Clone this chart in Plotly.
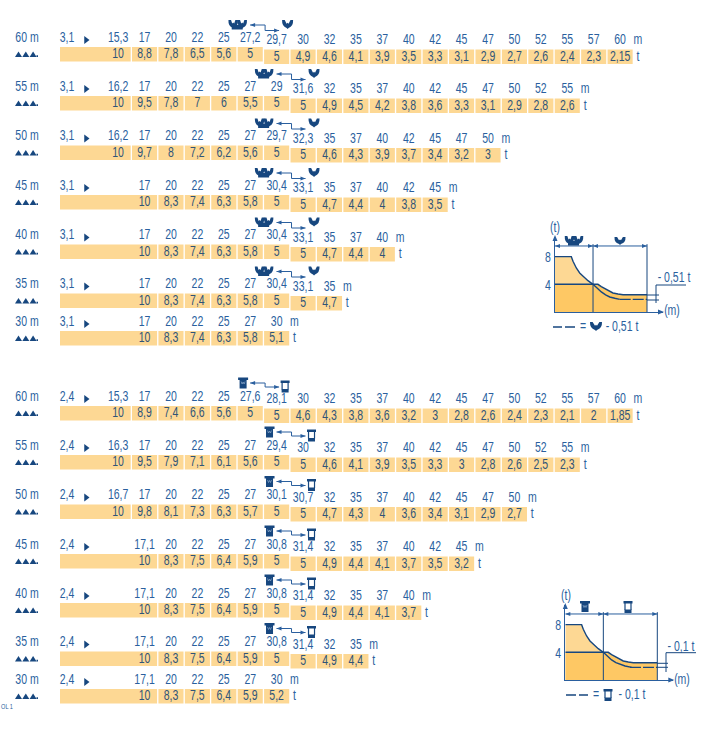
import plotly.graph_objects as go

boom_lengths = [60, 55, 50, 45, 40, 35, 30]

# first table: 3,1 m minimum radius
min_radius_a = "3,1"
radii_a = [
    [15.3, 17, 20, 22, 25, 27.2, 29.7, 30, 32, 35, 37, 40, 42, 45, 47, 50, 52, 55, 57, 60],
    [16.2, 17, 20, 22, 25, 27, 29, 31.6, 32, 35, 37, 40, 42, 45, 47, 50, 52, 55],
    [16.2, 17, 20, 22, 25, 27, 29.7, 32.3, 35, 37, 40, 42, 45, 47, 50],
    [17, 20, 22, 25, 27, 30.4, 33.1, 35, 37, 40, 42, 45],
    [17, 20, 22, 25, 27, 30.4, 33.1, 35, 37, 40],
    [17, 20, 22, 25, 27, 30.4, 33.1, 35],
    [17, 20, 22, 25, 27, 30],
]
loads_a = [
    [10, 8.8, 7.8, 6.5, 5.6, 5, 5, 4.9, 4.6, 4.1, 3.9, 3.5, 3.3, 3.1, 2.9, 2.7, 2.6, 2.4, 2.3, 2.15],
    [10, 9.5, 7.8, 7, 6, 5.5, 5, 5, 4.9, 4.5, 4.2, 3.8, 3.6, 3.3, 3.1, 2.9, 2.8, 2.6],
    [10, 9.7, 8, 7.2, 6.2, 5.6, 5, 5, 4.6, 4.3, 3.9, 3.7, 3.4, 3.2, 3],
    [10, 8.3, 7.4, 6.3, 5.8, 5, 5, 4.7, 4.4, 4, 3.8, 3.5],
    [10, 8.3, 7.4, 6.3, 5.8, 5, 5, 4.7, 4.4, 4],
    [10, 8.3, 7.4, 6.3, 5.8, 5, 5, 4.7],
    [10, 8.3, 7.4, 6.3, 5.8, 5.1],
]
first_col_a = [-1, -1, -1, 0, 0, 0, 0]
break_col_a = [5, 6, 6, 6, 6, 6, None]

# second table: 2,4 m minimum radius
min_radius_b = "2,4"
radii_b = [
    [15.3, 17, 20, 22, 25, 27.6, 28.1, 30, 32, 35, 37, 40, 42, 45, 47, 50, 52, 55, 57, 60],
    [16.3, 17, 20, 22, 25, 27, 29.4, 30, 32, 35, 37, 40, 42, 45, 47, 50, 52, 55],
    [16.7, 17, 20, 22, 25, 27, 30.1, 30.7, 32, 35, 37, 40, 42, 45, 47, 50],
    [17.1, 20, 22, 25, 27, 30.8, 31.4, 32, 35, 37, 40, 42, 45],
    [17.1, 20, 22, 25, 27, 30.8, 31.4, 32, 35, 37, 40],
    [17.1, 20, 22, 25, 27, 30.8, 31.4, 32, 35],
    [17.1, 20, 22, 25, 27, 30],
]
loads_b = [
    [10, 8.9, 7.4, 6.6, 5.6, 5, 5, 4.6, 4.3, 3.8, 3.6, 3.2, 3, 2.8, 2.6, 2.4, 2.3, 2.1, 2, 1.85],
    [10, 9.5, 7.9, 7.1, 6.1, 5.6, 5, 5, 4.6, 4.1, 3.9, 3.5, 3.3, 3, 2.8, 2.6, 2.5, 2.3],
    [10, 9.8, 8.1, 7.3, 6.3, 5.7, 5, 5, 4.7, 4.3, 4, 3.6, 3.4, 3.1, 2.9, 2.7],
    [10, 8.3, 7.5, 6.4, 5.9, 5, 5, 4.9, 4.4, 4.1, 3.7, 3.5, 3.2],
    [10, 8.3, 7.5, 6.4, 5.9, 5, 5, 4.9, 4.4, 4.1, 3.7],
    [10, 8.3, 7.5, 6.4, 5.9, 5, 5, 4.9, 4.4],
    [10, 8.3, 7.5, 6.4, 5.9, 5.2],
]
first_col_b = [-1, -1, -1, 0, 0, 0, 0]
break_col_b = [5, 6, 6, 6, 6, 6, None]

# load curves of the two small diagrams
curve_x = [0, 10.65, 11.74, 13.9, 16.1, 18.3, 21.5, 24.8]
curve_y = [8, 8, 7.33, 6.36, 5.64, 5.16, 4.53, 4]
upper_x = [0, 28, 30.2, 32.4, 35, 37.8, 41.1, 44.4, 60]
upper_y = [4, 4, 3.66, 3.37, 3.04, 2.75, 2.6, 2.5, 2.5]
reduced_a_x = [24.8, 27, 30.2, 33, 35.7, 39, 42.2]
reduced_a_y = [4, 3.5, 2.9, 2.47, 2.17, 1.98, 1.83]
reduced_b_x = [24.8, 27, 30.2, 33, 35.7, 39, 43.3]
reduced_b_y = [4, 3.5, 2.9, 2.5, 2.26, 2.02, 1.83]
tail_x = [42.2, 60]
tail_a_y = [1.83, 1.83]
tail_b_y = [1.83, 1.83]
divider_x = 24.8
end_x = 60

# page layout, in pixels
W, H = 703, 733
COL0, PITCH = 132, 26.42
CELL_W = 0.95
CELL_H = 14.5
SHIFT = 2.5
tops_a = [47, 96, 145.5, 195, 244.5, 293.5, 331]
tops_b = [406, 455, 504.5, 554, 603, 651.5, 689]

FONT = "Liberation Sans"
SIZE = 15
BLUE = "#2a5f9e"
DARK = "#17477f"
CELL_TEXT = "#2f5478"
LIGHT = "#fdd894"
AMBER = "#fec864"

shapes = []


def fmt(v):
    return str(v).replace(".", ",")


def col_left(c):
    return COL0 + PITCH * c


def solid(path, color=DARK):
    shapes.append(dict(type="path", path=path, xref="x2", yref="y", fillcolor=color, line=dict(width=0), layer="above"))


def stroke(path, color=BLUE, width=1, dash="solid"):
    shapes.append(dict(type="path", path=path, xref="x2", yref="y", line=dict(color=color, width=width, dash=dash), layer="above"))


def cup(cx, top, w=11, h=9):
    l, r, m = cx - w / 2, cx + w / 2, top + h
    solid(f"M{l},{top} L{l + 2.6},{top} L{cx - 1},{top + .42 * h} L{cx},{top + .3 * h} L{cx + 1},{top + .42 * h} L{r - 2.6},{top} L{r},{top} "
          f"Q{r + 0.3},{top + .7 * h} {cx + 1},{m - 1} L{cx},{m} L{cx - 1},{m - 1} Q{l - 0.3},{top + .7 * h} {l},{top} Z")


def double_cup(cx, top):
    cup(cx - 4.5, top, 9.5, 8.5)
    cup(cx + 4.5, top, 9.5, 8.5)
    solid(f"M{cx - 6},{top + 5} L{cx + 5},{top + 5} L{cx + 5},{top + 9.5} L{cx - 6},{top + 9.5} Z")


def block_full(cx, top):
    solid(f"M{cx - 5},{top} L{cx + 5},{top} L{cx + 5},{top + 2.5} L{cx + 3.5},{top + 2.5} L{cx + 3.5},{top + 11} "
          f"L{cx - 3.5},{top + 11} L{cx - 3.5},{top + 2.5} L{cx - 5},{top + 2.5} Z")
    stroke(f"M{cx - 2},{top + 4} L{cx - 1},{top + 6.5} L{cx},{top + 4.5} L{cx + 1},{top + 6.5} L{cx + 2},{top + 4}", "#9db8d6", 0.6)


def block_open(cx, top):
    solid(f"M{cx - 4.5},{top} L{cx + 4.5},{top} L{cx + 4.5},{top + 2.5} L{cx - 4.5},{top + 2.5} Z")
    stroke(f"M{cx - 3},{top + 2} L{cx - 3},{top + 9} M{cx + 3},{top + 2} L{cx + 3},{top + 9}", DARK, 1.2)
    solid(f"M{cx - 3.5},{top + 8.5} L{cx + 3.5},{top + 8.5} L{cx + 3.5},{top + 12} L{cx - 3.5},{top + 12} Z")


def head_left(x, y):
    solid(f"M{x},{y} L{x + 5},{y - 2} L{x + 5},{y + 2} Z", BLUE)


def head_right(x, y):
    solid(f"M{x},{y} L{x - 5},{y - 2} L{x - 5},{y + 2} Z", BLUE)


def switch_arrow(left, y_up, y_low):
    stroke(f"M{left - 14},{y_up} L{left + 1},{y_up} L{left + 1},{y_low} L{left + 15},{y_low}")
    head_left(left - 14, y_up)
    head_right(left + 15, y_low)


def truss(y):
    for x in [15, 22.3, 29.6]:
        solid(f"M{x},{y + 2.8} L{x + 3.5},{y - 2.8} L{x + 7},{y + 2.8} Z")
    solid(f"M36.5,{y + 1} L38,{y + 1} L38,{y + 2.8} L36.5,{y + 2.8} Z")


fig = go.Figure()
side_x, side_y, side_t = [], [], []
arrow_x, arrow_y = [], []


def add_table(tops, radii, loads, first_cols, break_cols, min_radius, style):
    cx, cw, ct = [], [], []
    lx, ly, lt = [], [], []
    vx, vy, vt = [], [], []
    ux, uy, ut = [], [], []
    for i, length in enumerate(boom_lengths):
        top = tops[i]
        brk = break_cols[i]
        for j, (r, v) in enumerate(zip(radii[i], loads[i])):
            c = first_cols[i] + j
            drop = SHIFT if brk is not None and c >= brk else 0
            left = c
            if j == 0:
                left = (60 - COL0) / PITCH
            right = c + CELL_W
            cx.append((left + right) / 2)
            cw.append(right - left)
            ct.append(top + drop)
            lx.append(c + CELL_W / 2)
            ly.append(top + drop - 9)
            lt.append(fmt(r))
            vx.append(c + CELL_W / 2)
            vy.append(top + drop + CELL_H / 2)
            vt.append(fmt(v))
        last = first_cols[i] + len(loads[i]) - 1
        drop = SHIFT if brk is not None else 0
        ux += [last + CELL_W + 0.2, last + CELL_W + 0.2]
        uy += [top + drop - 9, top + drop + CELL_H / 2]
        ut += ["m", "t"]
        side_x.extend([27, 67])
        side_y.extend([top - 9, top - 9])
        side_t.extend([f"{length} m", min_radius])
        arrow_x.append(86)
        arrow_y.append(top - 7)
        truss(top + CELL_H / 2)
        if brk is not None:
            left = col_left(brk)
            if style == "a":
                double_cup(left - 26.4, top - 27)
                cup(left + 23.5, top - 27)
                switch_arrow(left, top - 22, top - 16.5)
            else:
                block_full(left - 21, top - 28.5)
                block_open(left + 21, top - 25.5)
                switch_arrow(left, top - 23, top - 19)
    fig.add_trace(go.Bar(x=cx, y=[CELL_H] * len(cx), base=ct, width=cw, marker=dict(color=LIGHT, line=dict(width=0)),
                         xaxis="x", yaxis="y", hoverinfo="skip"))
    fig.add_trace(go.Scatter(x=lx, y=ly, text=lt, mode="text", textfont=dict(family=FONT, size=SIZE, color=BLUE),
                             xaxis="x", yaxis="y", hoverinfo="skip"))
    fig.add_trace(go.Scatter(x=vx, y=vy, text=vt, mode="text", textfont=dict(family=FONT, size=SIZE, color=CELL_TEXT),
                             xaxis="x", yaxis="y", hoverinfo="skip"))
    fig.add_trace(go.Scatter(x=ux, y=uy, text=ut, mode="text", textfont=dict(family=FONT, size=SIZE, color=BLUE),
                             xaxis="x", yaxis="y", hoverinfo="skip"))


add_table(tops_a, radii_a, loads_a, first_col_a, break_col_a, min_radius_a, "a")
add_table(tops_b, radii_b, loads_b, first_col_b, break_col_b, min_radius_b, "b")

fig.add_trace(go.Scatter(x=side_x, y=side_y, text=side_t, mode="text", xaxis="x2", yaxis="y",
                         textfont=dict(family=FONT, size=SIZE, color=BLUE), hoverinfo="skip"))
fig.add_trace(go.Scatter(x=[7], y=[707], text=["OL 1"], mode="text", xaxis="x2", yaxis="y",
                         textfont=dict(family=FONT, size=8, color=BLUE), hoverinfo="skip", cliponaxis=False))
fig.add_trace(go.Scatter(x=arrow_x, y=arrow_y, mode="markers", xaxis="x2", yaxis="y", hoverinfo="skip",
                         marker=dict(symbol="triangle-right", size=7, color=DARK)))


def add_inset(n, x0, y0, reduced_x, reduced_y, tail_y):
    # x0, y0 = pixel position of the diagram origin
    px_m, px_t = 92 / end_x, 6.92
    xa, ya = f"x{n}", f"y{n}"
    fig.add_trace(go.Scatter(x=curve_x, y=curve_y, mode="lines", fill="tozeroy", fillcolor=LIGHT,
                             line=dict(color=DARK, width=1.4), xaxis=xa, yaxis=ya, hoverinfo="skip"))
    fig.add_trace(go.Scatter(x=upper_x, y=upper_y, mode="lines", fill="tozeroy", fillcolor=AMBER,
                             line=dict(color=DARK, width=1.4), xaxis=xa, yaxis=ya, hoverinfo="skip"))
    fig.add_trace(go.Scatter(x=reduced_x, y=reduced_y, mode="lines", line=dict(color=DARK, width=1.4),
                             xaxis=xa, yaxis=ya, hoverinfo="skip"))
    fig.add_trace(go.Scatter(x=tail_x, y=tail_y, mode="lines", line=dict(color=DARK, width=1.4, dash="11px,2px"),
                             xaxis=xa, yaxis=ya, hoverinfo="skip"))
    for m in [divider_x, end_x]:
        fig.add_trace(go.Scatter(x=[m, m], y=[0, 9.8], mode="lines", line=dict(color=DARK, width=1),
                                 xaxis=xa, yaxis=ya, hoverinfo="skip"))
    fig.add_trace(go.Scatter(x=[0, end_x], y=[9.54, 9.54], mode="lines", line=dict(color=BLUE, width=1),
                             xaxis=xa, yaxis=ya, hoverinfo="skip"))
    fig.update_layout({
        f"xaxis{n}": dict(domain=[x0 / W, (x0 + 108) / W], range=[0, 108 / px_m], anchor=ya, showgrid=False, zeroline=False,
                          showline=True, linecolor=BLUE, linewidth=1.2, showticklabels=False, ticks=""),
        f"yaxis{n}": dict(domain=[1 - y0 / H, 1 - (y0 - 75) / H], range=[0, 75 / px_t], anchor=xa, showgrid=False, zeroline=False,
                          showline=True, linecolor=BLUE, linewidth=1.2, tickvals=[4, 8], ticktext=["4", "8"], ticks="",
                          tickfont=dict(family=FONT, size=SIZE, color=BLUE)),
    })
    solid(f"M{x0},{y0 - 77} L{x0 - 2.5},{y0 - 71} L{x0 + 2.5},{y0 - 71} Z", BLUE)
    solid(f"M{x0 + 109},{y0} L{x0 + 103},{y0 - 2.5} L{x0 + 103},{y0 + 2.5} Z", BLUE)


add_inset(3, 555, 312, reduced_a_x, reduced_a_y, tail_a_y)
add_inset(4, 565.3, 680, reduced_b_x, reduced_b_y, tail_b_y)

# text and icons around the small diagrams
inset_x = [555, 672, 674, 622, 583, 566, 682, 681, 632, 596]
inset_y = [228, 311, 278, 327, 327, 596, 680, 647, 695, 695]
inset_t = ["(t)", "(m)", "- 0,51 t", "- 0,51 t", "=", "(t)", "(m)", "- 0,1 t", "- 0,1 t", "="]
fig.add_trace(go.Scatter(x=inset_x, y=inset_y, text=inset_t, mode="text", xaxis="x2", yaxis="y", cliponaxis=False,
                         textfont=dict(family=FONT, size=SIZE, color=BLUE), hoverinfo="skip"))

double_cup(574, 236)
cup(620, 237, 11, 8)
head_left(555, 246)
head_right(593, 246)
head_left(593, 246)
head_right(647, 246)
stroke("M656,303 L656,285 L686,285", DARK, 1)
stroke("M647,295 L659,295 M647,300 L659,300", DARK, 1)
stroke("M553,327 L562,327 M565,327 L575,327", DARK, 1.6)
cup(596, 322, 12, 9)

block_full(585, 601)
block_open(628, 601)
head_left(565.3, 614)
head_right(603.3, 614)
head_left(603.3, 614)
head_right(657.3, 614)
stroke("M666,672 L666,652.7 L696,652.7", DARK, 1)
stroke("M657,663.3 L668,663.3 M657,667.3 L668,667.3", DARK, 1)
stroke("M566,695 L576,695 M579,695 L588,695", DARK, 1.6)
block_open(608, 689)

fig.update_layout(
    width=W, height=H, margin=dict(l=0, r=0, t=0, b=0), showlegend=False, barmode="overlay",
    paper_bgcolor="white", plot_bgcolor="rgba(0,0,0,0)", shapes=shapes,
    xaxis=dict(domain=[0, 1], range=[-COL0 / PITCH, (W - COL0) / PITCH], visible=False, fixedrange=True),
    xaxis2=dict(domain=[0, 1], range=[0, W], visible=False, overlaying="x", anchor="y", fixedrange=True),
    yaxis=dict(domain=[0, 1], range=[H, 0], visible=False, fixedrange=True),
)

# no condensed font is installed, so squeeze the real text horizontally
squeeze = """
document.body.style.margin = '0';
var gd = document.getElementById('{plot_id}');
function squeeze() {
  gd.querySelectorAll('svg text').forEach(function (t) {
    if (t.getAttribute('textLength')) return;
    var n = t.getComputedTextLength();
    if (n > 0) {
      t.setAttribute('textLength', n * 0.7);
      t.setAttribute('lengthAdjust', 'spacingAndGlyphs');
    }
  });
}
gd.on('plotly_afterplot', squeeze);
squeeze();
"""
fig.write_html("out.html", post_script=squeeze, config={"displayModeBar": False})
